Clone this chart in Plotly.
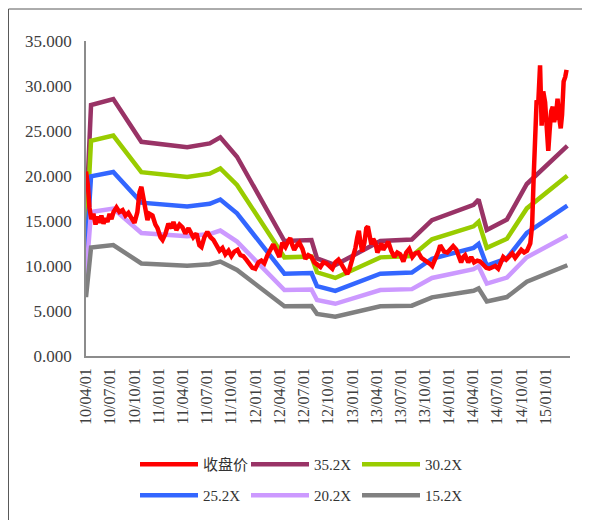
import plotly.graph_objects as go

# ---- band (PE multiple) series: vertex dates and values ----
band_dates = ["2010-04-01", "2010-04-20", "2010-07-13", "2010-10-27", "2011-04-18",
              "2011-07-12", "2011-08-21", "2011-10-23", "2012-04-19", "2012-07-30",
              "2012-08-20", "2012-10-28", "2013-04-16", "2013-08-13", "2013-10-28",
              "2014-04-03", "2014-04-22", "2014-05-23", "2014-08-07", "2014-10-21",
              "2015-03-23"]
pe_352 = [15.14, 27.88, 28.55, 23.80, 23.20, 23.62, 24.29, 22.14, 12.78, 12.88, 10.84,
          10.10, 12.78, 12.95, 15.10, 16.79, 17.39, 14.01, 15.17, 19.11, 23.34]
pe_302 = [12.99, 23.92, 24.49, 20.42, 19.90, 20.26, 20.84, 19.00, 10.96, 11.05, 9.30,
          8.67, 10.96, 11.11, 12.96, 14.41, 14.92, 12.02, 13.02, 16.40, 20.02]
pe_252 = [10.84, 19.96, 20.44, 17.04, 16.61, 16.91, 17.39, 15.85, 9.15, 9.22, 7.76,
          7.23, 9.15, 9.27, 10.81, 12.02, 12.45, 10.03, 10.86, 13.68, 16.71]
pe_202 = [8.69, 16.00, 16.38, 13.66, 13.31, 13.55, 13.94, 12.71, 7.33, 7.39, 6.22,
          5.80, 7.33, 7.43, 8.67, 9.64, 9.98, 8.04, 8.71, 10.97, 13.39]
pe_152 = [6.54, 12.04, 12.33, 10.28, 10.02, 10.20, 10.49, 9.56, 5.52, 5.56, 4.68,
          4.36, 5.52, 5.59, 6.52, 7.25, 7.51, 6.05, 6.55, 8.25, 10.08]

# ---- closing price ----
close_dates = [
    "2010-04-01", "2010-04-08", "2010-04-14", "2010-04-21", "2010-04-29", "2010-05-07",
    "2010-05-14", "2010-05-22", "2010-05-29", "2010-06-06", "2010-06-14", "2010-06-21",
    "2010-06-29", "2010-07-06", "2010-07-14", "2010-07-25", "2010-08-05", "2010-08-17",
    "2010-08-28", "2010-09-08", "2010-09-20", "2010-10-01", "2010-10-12", "2010-10-20",
    "2010-10-27", "2010-11-04", "2010-11-11", "2010-11-19", "2010-11-27", "2010-12-08",
    "2010-12-19", "2010-12-27", "2011-01-07", "2011-01-15", "2011-01-26", "2011-02-06",
    "2011-02-18", "2011-02-25", "2011-03-08", "2011-03-20", "2011-03-31", "2011-04-11",
    "2011-04-23", "2011-05-04", "2011-05-11", "2011-05-23", "2011-06-03", "2011-06-11",
    "2011-06-22", "2011-07-03", "2011-07-15", "2011-07-26", "2011-08-06", "2011-08-18",
    "2011-08-29", "2011-09-09", "2011-09-21", "2011-10-02", "2011-10-13", "2011-10-25",
    "2011-11-05", "2011-11-16", "2011-11-27", "2011-12-09", "2011-12-20", "2011-12-31",
    "2012-01-12", "2012-01-23", "2012-02-03", "2012-02-15", "2012-02-26", "2012-03-08",
    "2012-03-20", "2012-03-31", "2012-04-11", "2012-04-23", "2012-05-04", "2012-05-11",
    "2012-05-19", "2012-05-26", "2012-06-07", "2012-06-14", "2012-06-26", "2012-07-07",
    "2012-07-18", "2012-07-30", "2012-08-10", "2012-08-21", "2012-09-02", "2012-09-13",
    "2012-09-24", "2012-10-06", "2012-10-17", "2012-10-28", "2012-11-09", "2012-11-20",
    "2012-12-01", "2012-12-12", "2012-12-20", "2012-12-28", "2013-01-04", "2013-01-12",
    "2013-01-19", "2013-01-25", "2013-01-30", "2013-02-07", "2013-02-15", "2013-02-22",
    "2013-02-28", "2013-03-05", "2013-03-13", "2013-03-20", "2013-03-28", "2013-04-05",
    "2013-04-12", "2013-04-20", "2013-04-27", "2013-05-08", "2013-05-16", "2013-05-27",
    "2013-06-08", "2013-06-19", "2013-06-30", "2013-07-12", "2013-07-23", "2013-08-03",
    "2013-08-15", "2013-08-26", "2013-09-06", "2013-09-18", "2013-09-29", "2013-10-10",
    "2013-10-22", "2013-10-29", "2013-11-09", "2013-11-21", "2013-11-28", "2013-12-06",
    "2013-12-13", "2013-12-25", "2014-01-05", "2014-01-16", "2014-01-28", "2014-02-04",
    "2014-02-15", "2014-02-23", "2014-03-02", "2014-03-14", "2014-03-25", "2014-04-05",
    "2014-04-17", "2014-04-28", "2014-05-09", "2014-05-21", "2014-06-01", "2014-06-12",
    "2014-06-24", "2014-07-05", "2014-07-16", "2014-07-24", "2014-08-04", "2014-08-15",
    "2014-08-27", "2014-09-07", "2014-09-18", "2014-09-30", "2014-10-11", "2014-10-22",
    "2014-11-03", "2014-11-10", "2014-11-16", "2014-11-22", "2014-11-27", "2014-12-03",
    "2014-12-10", "2014-12-16", "2014-12-22", "2014-12-29", "2015-01-04", "2015-01-10",
    "2015-01-15", "2015-01-21", "2015-01-27", "2015-02-01", "2015-02-09", "2015-02-14",
    "2015-02-20", "2015-02-26", "2015-03-03", "2015-03-09", "2015-03-15", "2015-03-20"]
close_values = [
    20.5, 19.0, 16.5, 15.2, 15.8, 14.6,
    15.5, 14.8, 15.6, 14.7, 15.3, 14.9,
    15.8, 15.2, 16.0, 16.5, 16.0, 16.2,
    15.6, 15.9, 15.3, 14.8, 16.0, 18.2,
    18.8, 17.6, 16.5, 15.1, 15.8, 15.6,
    14.6, 14.2, 13.2, 12.9, 13.6, 14.7,
    14.2, 14.9, 14.0, 14.6, 14.3, 13.6,
    14.2, 13.5, 13.2, 13.6, 12.3, 12.1,
    13.2, 13.8, 13.2, 12.9, 12.3, 11.7,
    12.0, 11.3, 11.7, 11.1, 11.6, 11.8,
    11.2, 11.1, 10.7, 10.2, 9.8, 9.7,
    10.4, 10.6, 10.3, 11.2, 11.9, 12.4,
    11.7, 11.0, 12.6, 12.1, 12.8, 13.1,
    12.3, 11.8, 12.4, 12.6, 11.9, 10.8,
    11.2, 11.0, 10.4, 10.2, 9.9, 10.4,
    10.3, 10.0, 9.7, 10.4, 10.7, 10.2,
    9.6, 9.1, 9.6, 10.4, 11.3, 12.0,
    13.2, 13.9, 12.8, 11.6, 12.6, 14.2,
    14.4, 13.6, 12.4, 13.0, 12.6, 11.5,
    12.0, 12.5, 11.8, 12.4, 12.7, 11.7,
    11.0, 11.5, 11.3, 10.5, 11.5, 11.9,
    11.0, 11.4, 11.5, 10.9, 10.7, 10.4,
    10.2, 10.0, 10.7, 11.6, 12.3, 11.9,
    11.6, 11.5, 11.8, 12.2, 11.8, 11.3,
    10.4, 11.0, 11.2, 10.4, 11.0, 10.4,
    10.6, 10.5, 10.1, 9.8, 9.7, 9.9,
    10.0, 9.7, 10.5, 11.0, 10.7, 11.1,
    11.4, 10.9, 11.3, 11.8, 11.5, 11.7,
    12.5, 14.5, 20.0, 26.0, 28.4, 28.0,
    32.3, 25.6, 29.4, 28.2, 25.6, 22.8,
    25.0, 27.2, 27.7, 26.0, 27.0, 28.6,
    26.5, 25.3, 26.8, 30.5, 31.0, 31.8]

# ---- axis ticks ----
x_tick_dates = ["2010-04-01", "2010-07-01", "2010-10-01", "2011-01-01", "2011-04-01",
                "2011-07-01", "2011-10-01", "2012-01-01", "2012-04-01", "2012-07-01",
                "2012-10-01", "2013-01-01", "2013-04-01", "2013-07-01", "2013-10-01",
                "2014-01-01", "2014-04-01", "2014-07-01", "2014-10-01", "2015-01-01"]
x_tick_labels = ["10/04/01", "10/07/01", "10/10/01", "11/01/01", "11/04/01",
                 "11/07/01", "11/10/01", "12/01/01", "12/04/01", "12/07/01",
                 "12/10/01", "13/01/01", "13/04/01", "13/07/01", "13/10/01",
                 "14/01/01", "14/04/01", "14/07/01", "14/10/01", "15/01/01"]
y_tick_vals = [0, 5, 10, 15, 20, 25, 30, 35]
y_tick_labels = ["0.000", "5.000", "10.000", "15.000", "20.000", "25.000", "30.000", "35.000"]

bands = [
    ("35.2X", pe_352, "#993366", "legend", 2),
    ("30.2X", pe_302, "#99CC00", "legend", 3),
    ("25.2X", pe_252, "#3366FF", "legend2", 4),
    ("20.2X", pe_202, "#CC99FF", "legend2", 5),
    ("15.2X", pe_152, "#808080", "legend2", 6),
]

fig = go.Figure()
for name, vals, color, lg, rank in bands:
    fig.add_trace(go.Scatter(x=band_dates, y=vals, mode="lines", name=name,
                             line=dict(color=color, width=4.5),
                             legend=lg, legendrank=rank))
fig.add_trace(go.Scatter(x=close_dates, y=close_values, mode="lines", name="收盘价",
                         line=dict(color="#FF0000", width=4.5),
                         legend="legend", legendrank=1))

FONT = "Liberation Serif, 'Noto Sans CJK SC', serif"
# figure coordinates (page offset of 8px body margin removed)
L, R, T, B = 78, 28, 33, 172
W, H = 590, 520
pw, ph = W - L - R, H - T - B

def px2paper(px, py):
    return (px - L) / pw, (H - B - py) / ph

fx, fy = px2paper(0.5, 1)
lx1, ly1 = px2paper(127, 440)
lx2, ly2 = px2paper(127, 471)

legend_common = dict(orientation="h", xanchor="left", yanchor="top",
                     entrywidth=38, entrywidthmode="pixels", itemwidth=58,
                     font=dict(family=FONT, size=15, color="#333333"),
                     bgcolor="rgba(0,0,0,0)", traceorder="normal")

fig.update_layout(
    width=W, height=H,
    margin=dict(l=L, r=R, t=T, b=B, autoexpand=False),
    paper_bgcolor="white", plot_bgcolor="white",
    font=dict(family=FONT, size=15, color="#404040"),
    showlegend=True,
    legend=dict(x=lx1, y=ly1, **legend_common),
    legend2=dict(x=lx2, y=ly2, **legend_common),
    xaxis=dict(type="date", range=["2010-04-01", "2015-04-02"], automargin=False,
               tickvals=x_tick_dates, ticktext=x_tick_labels, tickangle=-90,
               showgrid=False, zeroline=False, showline=True, linecolor="#8c8c8c",
               linewidth=1.5, ticks="", ticklabelstandoff=4,
               tickfont=dict(family=FONT, size=16, color="#404040")),
    yaxis=dict(range=[0, 35], tickvals=y_tick_vals, ticktext=y_tick_labels,
               automargin=False,
               showgrid=False, zeroline=False, showline=True, linecolor="#8c8c8c",
               linewidth=1.5, ticks="", ticklabelstandoff=9,
               tickfont=dict(family=FONT, size=17, color="#404040")),
    shapes=[
        dict(type="line", xref="paper", yref="paper", x0=fx, x1=1.2, y0=fy, y1=fy,
             line=dict(color="#595959", width=1)),
        dict(type="line", xref="paper", yref="paper", x0=fx, x1=fx, y0=fy, y1=-0.7,
             line=dict(color="#595959", width=1)),
    ],
)

fig.write_html("out.html")
